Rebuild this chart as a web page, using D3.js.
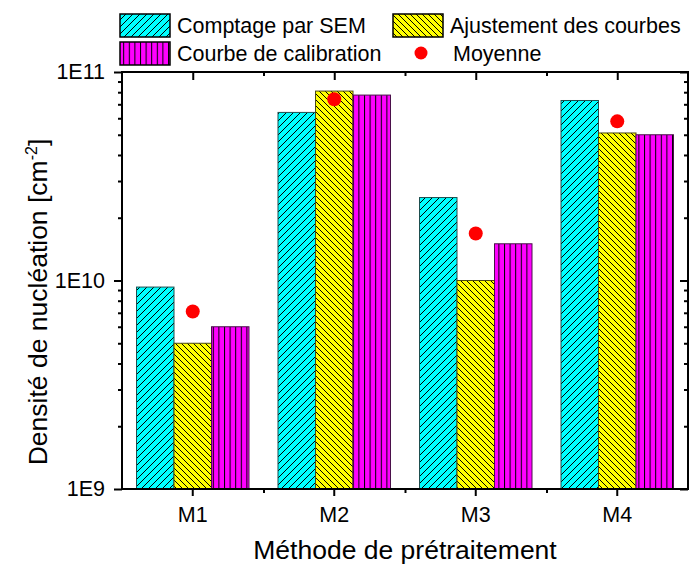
<!DOCTYPE html>
<html>
<head>
<meta charset="utf-8">
<script src="https://cdn.jsdelivr.net/npm/d3@7"></script>
<style>
  body { margin: 0; background: #fff; }
  text { font-family: "Liberation Sans", Arial, sans-serif; fill: #000; }
</style>
</head>
<body>
<div id="chart"></div>
<script>
// data
var categories = ["M1", "M2", "M3", "M4"];
var comptage = [9.3e9, 6.4e10, 2.5e10, 7.3e10];
var ajustement = [5.0e9, 8.1e10, 1.0e10, 5.1e10];
var calibration = [6.0e9, 7.75e10, 1.5e10, 5.0e10];
var moyenne = [7.1e9, 7.4e10, 1.68e10, 5.8e10];
var seriesNames = ["Comptage par SEM", "Ajustement des courbes", "Courbe de calibration", "Moyenne"];
var majorTicks = [1e9, 1e10, 1e11];
var majorLabels = ["1E9", "1E10", "1E11"];

var width = 691, height = 565;
var margin = { top: 72, right: 3, bottom: 76, left: 122 };

var svg = d3.select("#chart")
    .append("svg")
    .attr("width", width)
    .attr("height", height);

// hatch patterns
var defs = svg.append("defs");
function hatch(id, fill, size, d, w) {
    var p = defs.append("pattern")
        .attr("id", id)
        .attr("patternUnits", "userSpaceOnUse")
        .attr("width", w || size)
        .attr("height", size);
    p.append("rect").attr("width", w || size).attr("height", size).attr("fill", fill);
    p.append("path").attr("d", d).attr("stroke", "#000").attr("stroke-width", 1).attr("fill", "none");
}
hatch("pCyan", "#00ffff", 7, "M0,7 L7,0 M-1,1 L1,-1 M6,8 L8,6");
hatch("pYellow", "#ffff00", 6, "M0,0 L6,6 M-1,5 L1,7 M5,-1 L7,1");
hatch("pMagenta", "#ff00ff", 10, "M0.5,0 L0.5,10", 5.6);
var fills = ["url(#pCyan)", "url(#pYellow)", "url(#pMagenta)"];
var strokes = ["#1d4f4f", "#4a4a10", "#4a104a"];

var x0 = margin.left, x1 = width - margin.right;
var yTop = margin.top, yBot = height - margin.bottom;

var x = d3.scaleBand()
    .domain(categories)
    .range([x0, x1])
    .paddingInner(0)
    .paddingOuter(0);

var sub = d3.scaleBand()
    .domain([0, 1, 2])
    .range([0, x.bandwidth() * 0.795]);
var groupOffset = (x.bandwidth() - x.bandwidth() * 0.795) / 2;

var y = d3.scaleLog()
    .domain([1e9, 1e11])
    .range([yBot, yTop]);

// bars
var series = [comptage, ajustement, calibration];
series.forEach(function (vals, s) {
    svg.append("g")
        .selectAll("rect")
        .data(categories)
        .enter()
        .append("rect")
        .attr("x", function (d) { return x(d) + groupOffset + sub(s); })
        .attr("y", function (d, i) { return y(vals[i]); })
        .attr("width", sub.bandwidth())
        .attr("height", function (d, i) { return yBot - y(vals[i]); })
        .attr("fill", fills[s])
        .attr("stroke", strokes[s])
        .attr("stroke-width", 1);
});

// mean dots
svg.append("g")
    .selectAll("circle")
    .data(categories)
    .enter()
    .append("circle")
    .attr("cx", function (d) { return x(d) + x.bandwidth() / 2; })
    .attr("cy", function (d, i) { return y(moyenne[i]); })
    .attr("r", 7)
    .attr("fill", "#ff0000");

// axes
var minorTicks = y.ticks().filter(function (t) { return majorTicks.indexOf(t) < 0; });
var bounds = [1, 2, 3].map(function (i) { return x0 + i * x.bandwidth(); });
var centers = categories.map(function (c) { return x(c) + x.bandwidth() / 2; });
var xPos = d3.scaleIdentity();

function styleAxis(g) {
    g.select(".domain").remove();
    g.selectAll("line").attr("stroke", "#000").attr("stroke-width", 2);
    g.selectAll("text").style("font-size", "21.5px").style("font-family", "Liberation Sans, Arial, sans-serif");
}

// left
svg.append("g").attr("transform", "translate(" + x0 + ",0)")
    .call(d3.axisLeft(y).tickValues(majorTicks).tickSize(8).tickPadding(9)
        .tickFormat(function (d, i) { return majorLabels[i]; }))
    .call(styleAxis);
svg.append("g").attr("transform", "translate(" + x0 + ",0)")
    .call(d3.axisLeft(y).tickValues(minorTicks).tickSize(4).tickFormat(""))
    .call(styleAxis);
// right
svg.append("g").attr("transform", "translate(" + x1 + ",0)")
    .call(d3.axisLeft(y).tickValues(majorTicks).tickSize(8).tickFormat(""))
    .call(styleAxis);
svg.append("g").attr("transform", "translate(" + x1 + ",0)")
    .call(d3.axisLeft(y).tickValues(minorTicks).tickSize(4).tickFormat(""))
    .call(styleAxis);
// bottom
svg.append("g").attr("transform", "translate(0," + yBot + ")")
    .call(d3.axisBottom(x).tickSize(7).tickPadding(11))
    .call(styleAxis);
svg.append("g").attr("transform", "translate(0," + yBot + ")")
    .call(d3.axisBottom(xPos).tickValues(bounds).tickSize(4).tickFormat(""))
    .call(styleAxis);
// top
svg.append("g").attr("transform", "translate(0," + yTop + ")")
    .call(d3.axisBottom(xPos).tickValues(centers).tickSize(8).tickFormat(""))
    .call(styleAxis);
svg.append("g").attr("transform", "translate(0," + yTop + ")")
    .call(d3.axisBottom(xPos).tickValues(bounds).tickSize(4).tickFormat(""))
    .call(styleAxis);

// frame
svg.append("rect")
    .attr("x", x0).attr("y", yTop)
    .attr("width", x1 - x0).attr("height", yBot - yTop)
    .attr("fill", "none")
    .attr("stroke", "#000")
    .attr("stroke-width", 2);

// axis titles
svg.append("text")
    .attr("x", (x0 + x1) / 2)
    .attr("y", 559)
    .attr("text-anchor", "middle")
    .style("font-size", "26.5px")
    .text("Méthode de prétraitement");

var yt = svg.append("text")
    .attr("transform", "translate(47," + 302 + ") rotate(-90)")
    .attr("text-anchor", "middle")
    .style("font-size", "26.5px");
yt.append("tspan").text("Densité de nucléation [cm");
yt.append("tspan").attr("dy", -10).style("font-size", "16px").text("-2");
yt.append("tspan").attr("dy", 10).text("]");

// legend
var legendItems = [
    { name: seriesNames[0], fill: fills[0], stroke: strokes[0], x: 120, y: 14 },
    { name: seriesNames[1], fill: fills[1], stroke: strokes[1], x: 393, y: 14 },
    { name: seriesNames[2], fill: fills[2], stroke: strokes[2], x: 120, y: 42 }
];
var legend = svg.append("g");
legendItems.forEach(function (d) {
    legend.append("rect")
        .attr("x", d.x).attr("y", d.y)
        .attr("width", 50).attr("height", 23)
        .attr("fill", d.fill)
        .attr("stroke", "#000")
        .attr("stroke-width", 1.5);
    legend.append("text")
        .attr("x", d.x + 57).attr("y", d.y + 19)
        .style("font-size", "21.5px")
        .text(d.name);
});
legend.append("circle").attr("cx", 421).attr("cy", 53).attr("r", 6.5).attr("fill", "#ff0000");
legend.append("text").attr("x", 453).attr("y", 61).style("font-size", "21.5px").text(seriesNames[3]);
</script>
</body>
</html>
